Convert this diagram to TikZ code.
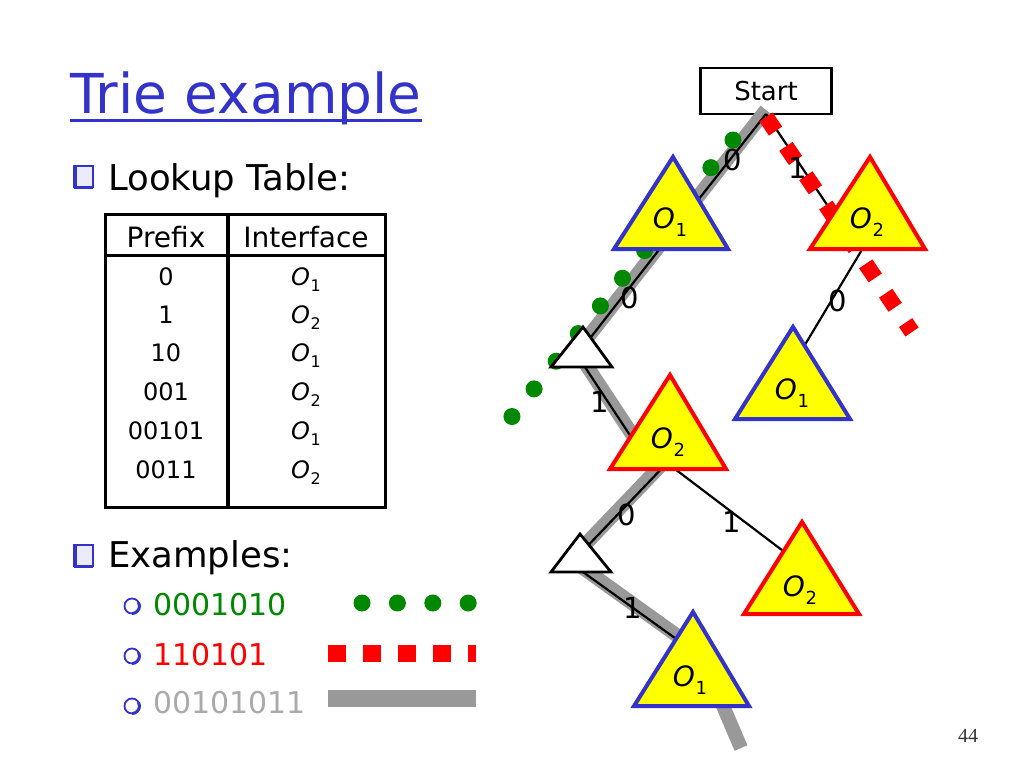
\documentclass[tikz,border=0pt]{standalone}
\usepackage{fontspec}
\setmainfont{DejaVu Sans}
\newfontfamily\pagenumfont{Liberation Serif}
\definecolor{tblue}{RGB}{51,51,204}
\definecolor{tgreen}{RGB}{0,136,0}
\definecolor{tred}{RGB}{255,0,0}
\definecolor{tgray}{RGB}{153,153,153}
\definecolor{lgray}{RGB}{170,170,170}
\definecolor{tyellow}{RGB}{255,255,0}
\newcommand{\Oi}[2]{{\itshape O}\kern0.03em\raisebox{-0.28em}{\fontsize{#2}{#2}\selectfont #1}}
\begin{document}
\begin{tikzpicture}[x=1pt,y=-1pt,
  edge/.style={draw=black, line width=2.2pt},
  bitlabel/.style={font=\fontsize{29}{29}\selectfont, inner sep=0pt},
  grayband/.style={draw=tgray, line width=14pt, line join=round},
  greendots/.style={draw=tgreen, line width=17pt, line cap=round, dash pattern=on 0pt off 35.4pt},
  reddash/.style={draw=tred, line width=16pt, dash pattern=on 17pt off 18.5pt},
  otri/.style={fill=tyellow, line width=4pt},
  wtri/.style={fill=white, draw=black, line width=2.8pt},
  trilabel/.style={font=\fontsize{28}{28}\selectfont, inner sep=0pt},
  bigtext/.style={font=\fontsize{35.5}{36}\selectfont, inner sep=0pt, anchor=base west},
  subtext/.style={font=\fontsize{30}{30}\selectfont, inner sep=0pt, anchor=base west},
  thtext/.style={font=\fontsize{28}{28}\selectfont, inner sep=0pt, anchor=base},
  tdtext/.style={font=\fontsize{24}{24}\selectfont, inner sep=0pt, anchor=base},
  sqbullet/.style={draw=tblue, line width=2pt, fill=tblue!10},
  cbullet/.style={draw=tblue, line width=1.8pt}
]
\useasboundingbox (0,0) rectangle (1024,768);

% ---------- title ----------
\node[font=\fontsize{55}{55}\selectfont, text=tblue, inner sep=0pt, anchor=base west] (title) at (70,113) {Trie example};
\draw[tblue, line width=3pt] ([yshift=-7pt]title.base west) -- ([yshift=-7pt]title.base east);

% ---------- bullets ----------
\draw[sqbullet] (74,166) rectangle (93,187);
\draw[tblue, line width=3pt] (75,165) -- (75,187.5) -- (93,187.5);
\node[bigtext] (lookup) at (108,190) {Lookup Table:};

\draw[sqbullet] (74,545) rectangle (93,566);
\draw[tblue, line width=3pt] (75,544) -- (75,566.5) -- (93,566.5);
\node[bigtext] (examples) at (108,567) {Examples:};

\draw[cbullet] (132,606) circle (7.5);
\draw[tblue, line width=3pt] (132,613.5) arc (90:-30:7.5);
\draw[cbullet] (132,656) circle (7.5);
\draw[tblue, line width=3pt] (132,663.5) arc (90:-30:7.5);
\draw[cbullet] (132,706) circle (7.5);
\draw[tblue, line width=3pt] (132,713.5) arc (90:-30:7.5);
\node[subtext, text=tgreen] (ex1) at (153,615) {0001010};
\node[subtext, text=tred] (ex2) at (153,665) {110101};
\node[subtext, text=lgray] (ex3) at (153,713) {00101011};

% legend
\draw[greendots] (362,603) -- (472,603);
\draw[tred, line width=17pt, dash pattern=on 17.5pt off 17.5pt] (328,653.5) -- (476,653.5);
\fill[tgray] (328,690) rectangle (476,707);

% ---------- table ----------
\draw[line width=3pt] (105,214) rectangle (385,507);
\draw[line width=4pt] (228,214) -- (228,507);
\draw[line width=3pt] (105,255) -- (385,255);
\node[thtext] (hprefix) at (166,247) {Prefix};
\node[thtext] (hiface) at (306,247) {Interface};
\node[tdtext] (p1) at (166,285) {0};
\node[tdtext] (p2) at (166,323) {1};
\node[tdtext] (p3) at (166,361) {10};
\node[tdtext] (p4) at (166,400) {001};
\node[tdtext] (p5) at (166,439) {00101};
\node[tdtext] (p6) at (166,478) {0011};
\node[tdtext] (i1) at (306,285) {\Oi{1}{16}};
\node[tdtext] (i2) at (306,323) {\Oi{2}{16}};
\node[tdtext] (i3) at (306,361) {\Oi{1}{16}};
\node[tdtext] (i4) at (306,400) {\Oi{2}{16}};
\node[tdtext] (i5) at (306,439) {\Oi{1}{16}};
\node[tdtext] (i6) at (306,478) {\Oi{2}{16}};

% ---------- trie ----------
\node[draw, line width=2.5pt, minimum width=131pt, minimum height=46pt, inner sep=0pt,
      font=\fontsize{26}{26}\selectfont] (start) at (766,91) {Start};
\coordinate (R) at (766,114);
\coordinate (A0) at (676,228);
\coordinate (A00) at (577,355);
\coordinate (A1) at (848,236);
\coordinate (B1) at (872,233);
\coordinate (A10) at (791,368);
\coordinate (A001) at (645,458);
\coordinate (B001) at (667,463);
\coordinate (A0010) at (577,557);
\coordinate (A0011) at (799,563);
\coordinate (B0010) at (569,562);
\coordinate (A00101) at (700,656);
\coordinate (Gend) at (741,748);
\coordinate (Ggo) at (510,419);
\coordinate (Rgo) at (912,332);

% gray path 00101011
\draw[grayband] ([yshift=4pt]R) -- ([yshift=4pt]A00) -- ([yshift=4pt]A001) -- ([yshift=4pt]B001)
  -- ([yshift=4pt]A0010) -- ([yshift=4pt]B0010) -- ([yshift=4pt]A00101) -- (Gend);

% black edges
\draw[edge] (R) -- (A0);
\draw[edge] (A0) -- (A00);
\draw[edge] (R) -- (A1);
\draw[edge] (B1) -- (A10);
\draw[edge] (A00) -- (A001);
\draw[edge] (B001) -- (A0010);
\draw[edge] (B001) -- (A0011);
\draw[edge] (B0010) -- (A00101);

% green path 0001010
\draw[greendots] (733,140) -- (Ggo);
% red path 110101
\draw[reddash] (766,117) -- (Rgo);

% edge labels
\node[bitlabel] (l0) at (733,160) {0};
\node[bitlabel] (l1) at (798,168) {1};
\node[bitlabel] (l00) at (630,298) {0};
\node[bitlabel] (l10) at (838,301) {0};
\node[bitlabel] (l001) at (600,402) {1};
\node[bitlabel] (l0010) at (627,515) {0};
\node[bitlabel] (l0011) at (732,522) {1};
\node[bitlabel] (l00101) at (633,608) {1};

% triangles
\draw[otri, draw=tblue] (673,157) -- (614,249) -- (728,249) -- cycle;
\node[trilabel] (t0) at (670,222) {\Oi{1}{18}};
\draw[otri, draw=tred] (870,157) -- (810,249) -- (925,249) -- cycle;
\node[trilabel] (t1) at (867,222) {\Oi{2}{18}};
\draw[otri, draw=tblue] (793,327) -- (735,419) -- (850,419) -- cycle;
\node[trilabel] (t10) at (792,393) {\Oi{1}{18}};
\draw[wtri] (583,327) -- (551,367) -- (612,367) -- cycle;
\draw[otri, draw=tred] (670,375) -- (610,469) -- (726,469) -- cycle;
\node[trilabel] (t001) at (668,442) {\Oi{2}{18}};
\draw[wtri] (580,534) -- (551,572) -- (611,572) -- cycle;
\draw[otri, draw=tred] (802,522) -- (744,614) -- (859,614) -- cycle;
\node[trilabel] (t0011) at (800,590) {\Oi{2}{18}};
\draw[otri, draw=tblue] (693,612) -- (634,706) -- (749,706) -- cycle;
\node[trilabel] (t00101) at (690,680) {\Oi{1}{18}};

% page number
\node[font=\pagenumfont\fontsize{20}{20}\selectfont, text=black!80, inner sep=0pt, anchor=base] (pnum) at (968,742) {44};
\end{tikzpicture}
\end{document}
